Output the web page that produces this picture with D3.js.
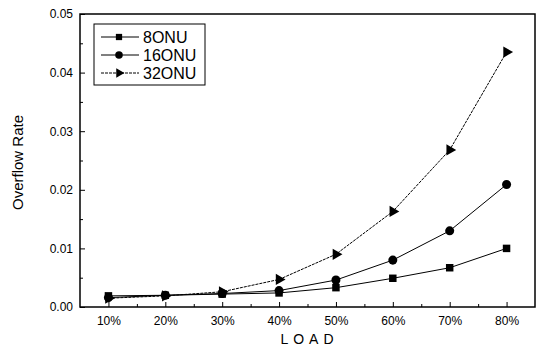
<!DOCTYPE html>
<html>
<head>
<meta charset="utf-8">
<script src="https://cdn.jsdelivr.net/npm/d3@7"></script>
<style>
  body { margin: 0; background: #fff; }
  text { font-family: "Liberation Sans", Arial, sans-serif; fill: #000; }
</style>
</head>
<body>
<svg id="chart"></svg>
<script>
let width = 539
let height = 347
let margin = {top: 14, right: 4, bottom: 40, left: 80}

// data
let loads = [10, 20, 30, 40, 50, 60, 70, 80]
let onu8 = [0.0019, 0.0020, 0.0022, 0.0024, 0.0033, 0.0049, 0.0067, 0.0100]
let onu16 = [0.0016, 0.0020, 0.0023, 0.0028, 0.0046, 0.0080, 0.0130, 0.0209]
let onu32 = [0.0015, 0.0019, 0.0026, 0.0047, 0.0090, 0.0163, 0.0268, 0.0435]
let seriesNames = ["8ONU", "16ONU", "32ONU"]
let yTicks = [0, 0.01, 0.02, 0.03, 0.04, 0.05]

let series = [
    {name: seriesNames[0], values: onu8, symbol: d3.symbolSquare, size: 56, dash: null},
    {name: seriesNames[1], values: onu16, symbol: d3.symbolCircle, size: 64, dash: null},
    {name: seriesNames[2], values: onu32, symbol: d3.symbolTriangle, size: 55, dash: "3,1"}
]

let plotW = width - margin.left - margin.right
let plotH = height - margin.top - margin.bottom

let xScale = d3.scaleLinear().domain([5, 85]).range([0, plotW])
let yScale = d3.scaleLinear().domain([0, 0.05]).range([plotH, 0])

let svg = d3.select("#chart")
    .attr("width", width)
    .attr("height", height)

let g = svg.append("g").attr("transform", "translate(" + margin.left + "," + margin.top + ")")

// frame
g.append("rect")
    .attr("width", plotW)
    .attr("height", plotH)
    .attr("fill", "none")
    .attr("stroke", "#000")
    .attr("stroke-width", 1.5)

// x axis, ticks inward
let xAxis = g.append("g")
    .attr("transform", "translate(0," + plotH + ")")
    .call(d3.axisBottom(xScale).tickValues(loads).tickSize(-5).tickFormat(d => d + "%"))
xAxis.select(".domain").remove()
xAxis.selectAll("text")
    .attr("y", 9)
    .attr("font-size", 12)
    .attr("font-family", "Liberation Sans, Arial, sans-serif")

g.append("g")
    .attr("transform", "translate(0," + plotH + ")")
    .call(d3.axisBottom(xScale).tickValues(loads.map(d => d + 5).filter(d => d < 85)).tickSize(-3).tickFormat(""))
    .select(".domain").remove()

// y axis, ticks inward
let yAxis = g.append("g")
    .call(d3.axisLeft(yScale).tickValues(yTicks).tickSize(-5).tickFormat(d3.format(".2f")))
yAxis.select(".domain").remove()
yAxis.selectAll("text")
    .attr("x", -7)
    .attr("font-size", 12)
    .attr("font-family", "Liberation Sans, Arial, sans-serif")

g.append("g")
    .call(d3.axisLeft(yScale).tickValues(yTicks.slice(0, -1).map(d => d + 0.005)).tickSize(-3).tickFormat(""))
    .select(".domain").remove()

// axis labels
svg.append("text")
    .text("Overflow Rate")
    .attr("font-size", 15)
    .attr("text-anchor", "middle")
    .attr("transform", "translate(23," + (margin.top + plotH / 2 + 2) + ") rotate(-90)")

svg.append("text")
    .text("LOAD")
    .attr("font-size", 14)
    .attr("letter-spacing", 5)
    .attr("text-anchor", "middle")
    .attr("x", margin.left + plotW / 2 + 2)
    .attr("y", 344)

// lines and markers
let line = d3.line()
    .x((d, i) => xScale(loads[i]))
    .y(d => yScale(d))

series.forEach(s => {
    g.append("path")
        .datum(s.values)
        .attr("d", line)
        .attr("fill", "none")
        .attr("stroke", "#000")
        .attr("stroke-width", 1)
        .attr("stroke-dasharray", s.dash)

    g.selectAll(null)
        .data(s.values)
        .enter()
        .append("path")
        .attr("d", d3.symbol().type(s.symbol).size(s.size))
        .attr("transform", (d, i) => "translate(" + xScale(loads[i]) + "," + yScale(d) + ")" + (s.symbol === d3.symbolTriangle ? " rotate(90)" : ""))
        .attr("fill", "#000")
})

// legend
let legend = svg.append("g").attr("transform", "translate(94,24)")
legend.append("rect")
    .attr("width", 111)
    .attr("height", 61)
    .attr("fill", "#fff")
    .attr("stroke", "#000")
    .attr("stroke-width", 1)

series.forEach((s, i) => {
    let ly = 13 + i * 18
    let row = legend.append("g").attr("transform", "translate(0," + ly + ")")
    row.append("line")
        .attr("x1", 7).attr("x2", 45)
        .attr("stroke", "#000")
        .attr("stroke-width", 1)
        .attr("stroke-dasharray", s.dash)
    row.append("path")
        .attr("d", d3.symbol().type(s.symbol).size(s.size * 0.7))
        .attr("transform", "translate(25,0)" + (s.symbol === d3.symbolTriangle ? " rotate(90)" : ""))
        .attr("fill", "#000")
    row.append("text")
        .text(s.name)
        .attr("x", 49)
        .attr("y", 5.5)
        .attr("font-size", 16)
})
</script>
</body>
</html>
